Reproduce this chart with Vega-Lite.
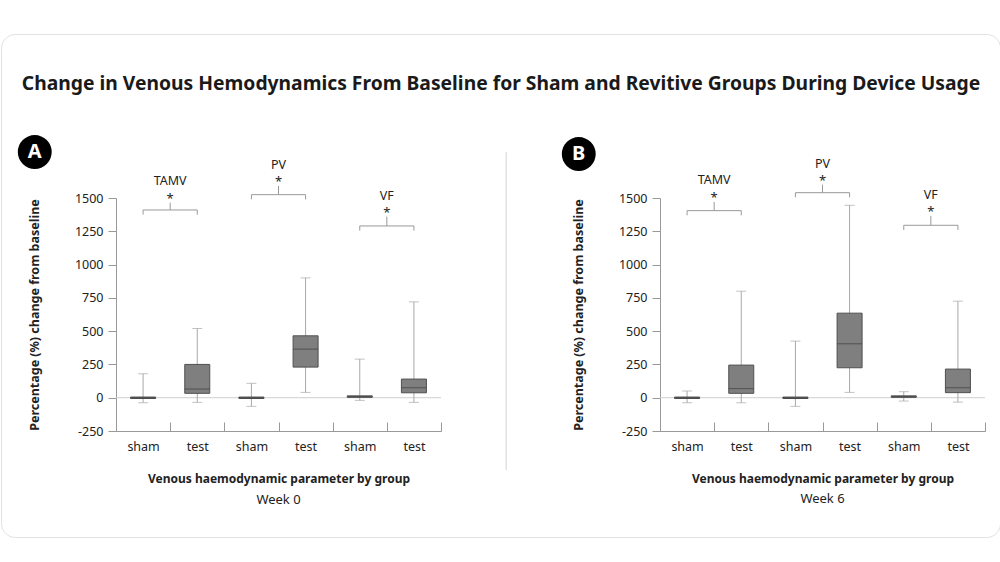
{
  "$schema": "https://vega.github.io/schema/vega-lite/v6.json",
  "background": "white",
  "padding": {"left": 0, "top": 34, "right": 0, "bottom": 5},
  "bounds": "flush",
  "spacing": 219,
  "title": {
    "text": "Change in Venous Hemodynamics From Baseline for Sham and Revitive Groups During Device Usage",
    "fontSize": 19.3, "fontWeight": "bold", "font": "Noto Sans", "color": "#1a1a1a",
    "anchor": "middle", "offset": -60
  },
  "datasets": {
    "boxA": [
      {"cat": "TAMV sham", "lo": -37, "q1": -6, "med": 0, "q3": 5, "hi": 180},
      {"cat": "TAMV test", "lo": -35, "q1": 33, "med": 65, "q3": 250, "hi": 520},
      {"cat": "PV sham", "lo": -65, "q1": -6, "med": 0, "q3": 5, "hi": 108},
      {"cat": "PV test", "lo": 40, "q1": 230, "med": 365, "q3": 465, "hi": 900},
      {"cat": "VF sham", "lo": -20, "q1": 3, "med": 8, "q3": 14, "hi": 290},
      {"cat": "VF test", "lo": -35, "q1": 37, "med": 75, "q3": 140, "hi": 720}
    ],
    "boxB": [
      {"cat": "TAMV sham", "lo": -38, "q1": -6, "med": 0, "q3": 5, "hi": 50},
      {"cat": "TAMV test", "lo": -38, "q1": 33, "med": 68, "q3": 245, "hi": 800},
      {"cat": "PV sham", "lo": -65, "q1": -6, "med": 0, "q3": 5, "hi": 425},
      {"cat": "PV test", "lo": 40, "q1": 225, "med": 405, "q3": 635, "hi": 1445},
      {"cat": "VF sham", "lo": -25, "q1": 3, "med": 8, "q3": 14, "hi": 45},
      {"cat": "VF test", "lo": -33, "q1": 38, "med": 75, "q3": 215, "hi": 725}
    ],
    "brA": [
      {"param": "TAMV", "sham": "TAMV sham", "test": "TAMV test", "yb": 1410, "ye": 1375, "ys": 1465, "yl": 1630},
      {"param": "PV", "sham": "PV sham", "test": "PV test", "yb": 1525, "ye": 1490, "ys": 1590, "yl": 1750},
      {"param": "VF", "sham": "VF sham", "test": "VF test", "yb": 1290, "ye": 1255, "ys": 1360, "yl": 1515}
    ],
    "brB": [
      {"param": "TAMV", "sham": "TAMV sham", "test": "TAMV test", "yb": 1405, "ye": 1370, "ys": 1470, "yl": 1638},
      {"param": "PV", "sham": "PV sham", "test": "PV test", "yb": 1540, "ye": 1505, "ys": 1600, "yl": 1755},
      {"param": "VF", "sham": "VF sham", "test": "VF test", "yb": 1295, "ye": 1260, "ys": 1365, "yl": 1525}
    ]
  },
  "hconcat": [
    {
      "width": 325, "height": 233,
      "title": {"text": "Week 0", "orient": "bottom", "fontSize": 13, "fontWeight": "normal", "offset": -44, "anchor": "middle", "frame": "group", "color": "#222"},
      "layer": [
        {"data": {"values": [{"frame": "card"}]}, "mark": {"type": "rect", "filled": false, "color": "#e2e2e2", "strokeWidth": 1, "cornerRadius": 14},
         "encoding": {
           "x": {"datum": "TAMV sham", "type": "nominal", "bandPosition": -2.114, "scale": {"domain": ["TAMV sham", "TAMV test", "PV sham", "PV test", "VF sham", "VF test"], "paddingInner": 0, "paddingOuter": 0}},
           "x2": {"datum": "TAMV sham", "bandPosition": 16.33},
           "y": {"datum": 2728, "type": "quantitative", "scale": {"domain": [-250, 1500], "nice": false, "zero": false}},
           "y2": {"datum": -1050}}},
        {"data": {"values": [{"line": "zero"}]}, "mark": {"type": "rule", "color": "#cfcfcf", "strokeWidth": 1},
         "encoding": {"y": {"datum": 0, "type": "quantitative", "scale": {"domain": [-250, 1500], "nice": false, "zero": false}}}},
        {"data": {"name": "boxA"}, "mark": {"type": "rule", "color": "#a8a8a8"},
         "encoding": {
           "x": {"field": "cat", "type": "nominal", "sort": null, "scale": {"domain": ["TAMV sham", "TAMV test", "PV sham", "PV test", "VF sham", "VF test"], "paddingInner": 0, "paddingOuter": 0}},
           "y": {"field": "lo", "type": "quantitative", "scale": {"domain": [-250, 1500], "nice": false, "zero": false}},
           "y2": {"field": "hi"}}},
        {"data": {"name": "boxA"}, "mark": {"type": "tick", "color": "#a8a8a8", "size": 10, "thickness": 1},
         "encoding": {
           "x": {"field": "cat", "type": "nominal", "sort": null, "scale": {"domain": ["TAMV sham", "TAMV test", "PV sham", "PV test", "VF sham", "VF test"], "paddingInner": 0, "paddingOuter": 0}},
           "y": {"field": "lo", "type": "quantitative", "scale": {"domain": [-250, 1500], "nice": false, "zero": false}}}},
        {"data": {"name": "boxA"}, "mark": {"type": "tick", "color": "#a8a8a8", "size": 10, "thickness": 1},
         "encoding": {
           "x": {"field": "cat", "type": "nominal", "sort": null, "scale": {"domain": ["TAMV sham", "TAMV test", "PV sham", "PV test", "VF sham", "VF test"], "paddingInner": 0, "paddingOuter": 0}},
           "y": {"field": "hi", "type": "quantitative", "scale": {"domain": [-250, 1500], "nice": false, "zero": false}}}},
        {"data": {"name": "boxA"}, "mark": {"type": "bar", "size": 25, "color": "#7f7f7f", "stroke": "#505050", "strokeWidth": 1},
         "encoding": {
           "x": {"field": "cat", "type": "nominal", "sort": null, "scale": {"domain": ["TAMV sham", "TAMV test", "PV sham", "PV test", "VF sham", "VF test"], "paddingInner": 0, "paddingOuter": 0},
             "axis": {"title": "Venous haemodynamic parameter by group", "labelExpr": "split(datum.label, ' ')[1]", "labelAngle": 0, "labelAlign": "center", "tickBand": "extent", "tickSize": -9, "labelPadding": 24, "titlePadding": 21, "titleFontWeight": "bold", "titleFontSize": 12, "labelFontSize": 12.5, "domainColor": "#999999", "tickColor": "#999999", "labelColor": "#222222", "titleColor": "#222222"}},
           "y": {"field": "q1", "type": "quantitative", "scale": {"domain": [-250, 1500], "nice": false, "zero": false},
             "axis": {"title": "Percentage (%) change from baseline", "values": [-250, 0, 250, 500, 750, 1000, 1250, 1500], "tickCount": 10, "labelExpr": "'' + datum.value", "labelOverlap": false, "grid": false, "tickSize": 8, "labelPadding": 5, "titlePadding": 33, "titleFontWeight": "bold", "titleFontSize": 12.5, "labelFontSize": 12.5, "domainColor": "#999999", "tickColor": "#999999", "labelColor": "#222222", "titleColor": "#222222"}},
           "y2": {"field": "q3"}}},
        {"data": {"name": "boxA"}, "mark": {"type": "tick", "color": "#3d3d3d", "size": 25, "thickness": 1},
         "encoding": {
           "x": {"field": "cat", "type": "nominal", "sort": null, "scale": {"domain": ["TAMV sham", "TAMV test", "PV sham", "PV test", "VF sham", "VF test"], "paddingInner": 0, "paddingOuter": 0}},
           "y": {"field": "med", "type": "quantitative", "scale": {"domain": [-250, 1500], "nice": false, "zero": false}}}},
        {"data": {"name": "brA"}, "mark": {"type": "rule", "color": "#999999"},
         "encoding": {
           "x": {"field": "sham", "type": "nominal", "scale": {"domain": ["TAMV sham", "TAMV test", "PV sham", "PV test", "VF sham", "VF test"], "paddingInner": 0, "paddingOuter": 0}},
           "x2": {"field": "test"},
           "y": {"field": "yb", "type": "quantitative", "scale": {"domain": [-250, 1500], "nice": false, "zero": false}}}},
        {"data": {"name": "brA"}, "mark": {"type": "rule", "color": "#999999"},
         "encoding": {
           "x": {"field": "sham", "type": "nominal", "scale": {"domain": ["TAMV sham", "TAMV test", "PV sham", "PV test", "VF sham", "VF test"], "paddingInner": 0, "paddingOuter": 0}},
           "y": {"field": "yb", "type": "quantitative", "scale": {"domain": [-250, 1500], "nice": false, "zero": false}},
           "y2": {"field": "ye"}}},
        {"data": {"name": "brA"}, "mark": {"type": "rule", "color": "#999999"},
         "encoding": {
           "x": {"field": "test", "type": "nominal", "scale": {"domain": ["TAMV sham", "TAMV test", "PV sham", "PV test", "VF sham", "VF test"], "paddingInner": 0, "paddingOuter": 0}},
           "y": {"field": "yb", "type": "quantitative", "scale": {"domain": [-250, 1500], "nice": false, "zero": false}},
           "y2": {"field": "ye"}}},
        {"data": {"name": "brA"}, "mark": {"type": "rule", "color": "#999999"},
         "encoding": {
           "x": {"field": "test", "type": "nominal", "bandPosition": 0, "scale": {"domain": ["TAMV sham", "TAMV test", "PV sham", "PV test", "VF sham", "VF test"], "paddingInner": 0, "paddingOuter": 0}},
           "y": {"field": "yb", "type": "quantitative", "scale": {"domain": [-250, 1500], "nice": false, "zero": false}},
           "y2": {"field": "ys"}}},
        {"data": {"name": "brA"}, "mark": {"type": "text", "text": "*", "fontSize": 13, "baseline": "alphabetic", "color": "#222222"},
         "encoding": {
           "x": {"field": "test", "type": "nominal", "bandPosition": 0, "scale": {"domain": ["TAMV sham", "TAMV test", "PV sham", "PV test", "VF sham", "VF test"], "paddingInner": 0, "paddingOuter": 0}},
           "y": {"field": "ys", "type": "quantitative", "scale": {"domain": [-250, 1500], "nice": false, "zero": false}}}},
        {"data": {"name": "brA"}, "mark": {"type": "text", "fontSize": 12.5, "baseline": "middle", "color": "#222222"},
         "encoding": {
           "x": {"field": "test", "type": "nominal", "bandPosition": 0, "scale": {"domain": ["TAMV sham", "TAMV test", "PV sham", "PV test", "VF sham", "VF test"], "paddingInner": 0, "paddingOuter": 0}},
           "y": {"field": "yl", "type": "quantitative", "scale": {"domain": [-250, 1500], "nice": false, "zero": false}},
           "text": {"field": "param"}}},
        {"data": {"values": [{"badge": "A"}]}, "mark": {"type": "point", "shape": "circle", "filled": true, "size": 1150, "color": "#000000", "opacity": 1},
         "encoding": {
           "x": {"datum": "TAMV sham", "type": "nominal", "bandPosition": -1.5, "scale": {"domain": ["TAMV sham", "TAMV test", "PV sham", "PV test", "VF sham", "VF test"], "paddingInner": 0, "paddingOuter": 0}},
           "y": {"datum": 1845, "type": "quantitative", "scale": {"domain": [-250, 1500], "nice": false, "zero": false}}}},
        {"data": {"values": [{"badge": "A"}]}, "mark": {"type": "text", "fontSize": 20, "fontWeight": "bold", "color": "#ffffff", "baseline": "middle", "align": "center"},
         "encoding": {
           "x": {"datum": "TAMV sham", "type": "nominal", "bandPosition": -1.5, "scale": {"domain": ["TAMV sham", "TAMV test", "PV sham", "PV test", "VF sham", "VF test"], "paddingInner": 0, "paddingOuter": 0}},
           "y": {"datum": 1845, "type": "quantitative", "scale": {"domain": [-250, 1500], "nice": false, "zero": false}},
           "text": {"field": "badge"}}}
      ]
    },
    {
      "width": 325, "height": 233,
      "title": {"text": "Week 6", "orient": "bottom", "fontSize": 13, "fontWeight": "normal", "offset": 8, "anchor": "middle", "frame": "group", "color": "#222"},
      "layer": [
        {"data": {"values": [{"line": "divider"}]}, "mark": {"type": "rule", "color": "#d4d4d4", "strokeWidth": 1},
         "encoding": {
           "x": {"datum": "TAMV sham", "type": "nominal", "bandPosition": -2.84, "scale": {"domain": ["TAMV sham", "TAMV test", "PV sham", "PV test", "VF sham", "VF test"], "paddingInner": 0, "paddingOuter": 0}},
           "y": {"datum": 1845, "type": "quantitative", "scale": {"domain": [-250, 1500], "nice": false, "zero": false}},
           "y2": {"datum": -543}}},
        {"data": {"values": [{"line": "zero"}]}, "mark": {"type": "rule", "color": "#cfcfcf", "strokeWidth": 1},
         "encoding": {"y": {"datum": 0, "type": "quantitative", "scale": {"domain": [-250, 1500], "nice": false, "zero": false}}}},
        {"data": {"name": "boxB"}, "mark": {"type": "rule", "color": "#a8a8a8"},
         "encoding": {
           "x": {"field": "cat", "type": "nominal", "sort": null, "scale": {"domain": ["TAMV sham", "TAMV test", "PV sham", "PV test", "VF sham", "VF test"], "paddingInner": 0, "paddingOuter": 0}},
           "y": {"field": "lo", "type": "quantitative", "scale": {"domain": [-250, 1500], "nice": false, "zero": false}},
           "y2": {"field": "hi"}}},
        {"data": {"name": "boxB"}, "mark": {"type": "tick", "color": "#a8a8a8", "size": 10, "thickness": 1},
         "encoding": {
           "x": {"field": "cat", "type": "nominal", "sort": null, "scale": {"domain": ["TAMV sham", "TAMV test", "PV sham", "PV test", "VF sham", "VF test"], "paddingInner": 0, "paddingOuter": 0}},
           "y": {"field": "lo", "type": "quantitative", "scale": {"domain": [-250, 1500], "nice": false, "zero": false}}}},
        {"data": {"name": "boxB"}, "mark": {"type": "tick", "color": "#a8a8a8", "size": 10, "thickness": 1},
         "encoding": {
           "x": {"field": "cat", "type": "nominal", "sort": null, "scale": {"domain": ["TAMV sham", "TAMV test", "PV sham", "PV test", "VF sham", "VF test"], "paddingInner": 0, "paddingOuter": 0}},
           "y": {"field": "hi", "type": "quantitative", "scale": {"domain": [-250, 1500], "nice": false, "zero": false}}}},
        {"data": {"name": "boxB"}, "mark": {"type": "bar", "size": 25, "color": "#7f7f7f", "stroke": "#505050", "strokeWidth": 1},
         "encoding": {
           "x": {"field": "cat", "type": "nominal", "sort": null, "scale": {"domain": ["TAMV sham", "TAMV test", "PV sham", "PV test", "VF sham", "VF test"], "paddingInner": 0, "paddingOuter": 0},
             "axis": {"title": "Venous haemodynamic parameter by group", "labelExpr": "split(datum.label, ' ')[1]", "labelAngle": 0, "labelAlign": "center", "tickBand": "extent", "tickSize": -9, "labelPadding": 24, "titlePadding": 21, "titleFontWeight": "bold", "titleFontSize": 12, "labelFontSize": 12.5, "domainColor": "#999999", "tickColor": "#999999", "labelColor": "#222222", "titleColor": "#222222"}},
           "y": {"field": "q1", "type": "quantitative", "scale": {"domain": [-250, 1500], "nice": false, "zero": false},
             "axis": {"title": "Percentage (%) change from baseline", "values": [-250, 0, 250, 500, 750, 1000, 1250, 1500], "tickCount": 10, "labelExpr": "'' + datum.value", "labelOverlap": false, "grid": false, "tickSize": 8, "labelPadding": 5, "titlePadding": 33, "titleFontWeight": "bold", "titleFontSize": 12.5, "labelFontSize": 12.5, "domainColor": "#999999", "tickColor": "#999999", "labelColor": "#222222", "titleColor": "#222222"}},
           "y2": {"field": "q3"}}},
        {"data": {"name": "boxB"}, "mark": {"type": "tick", "color": "#3d3d3d", "size": 25, "thickness": 1},
         "encoding": {
           "x": {"field": "cat", "type": "nominal", "sort": null, "scale": {"domain": ["TAMV sham", "TAMV test", "PV sham", "PV test", "VF sham", "VF test"], "paddingInner": 0, "paddingOuter": 0}},
           "y": {"field": "med", "type": "quantitative", "scale": {"domain": [-250, 1500], "nice": false, "zero": false}}}},
        {"data": {"name": "brB"}, "mark": {"type": "rule", "color": "#999999"},
         "encoding": {
           "x": {"field": "sham", "type": "nominal", "scale": {"domain": ["TAMV sham", "TAMV test", "PV sham", "PV test", "VF sham", "VF test"], "paddingInner": 0, "paddingOuter": 0}},
           "x2": {"field": "test"},
           "y": {"field": "yb", "type": "quantitative", "scale": {"domain": [-250, 1500], "nice": false, "zero": false}}}},
        {"data": {"name": "brB"}, "mark": {"type": "rule", "color": "#999999"},
         "encoding": {
           "x": {"field": "sham", "type": "nominal", "scale": {"domain": ["TAMV sham", "TAMV test", "PV sham", "PV test", "VF sham", "VF test"], "paddingInner": 0, "paddingOuter": 0}},
           "y": {"field": "yb", "type": "quantitative", "scale": {"domain": [-250, 1500], "nice": false, "zero": false}},
           "y2": {"field": "ye"}}},
        {"data": {"name": "brB"}, "mark": {"type": "rule", "color": "#999999"},
         "encoding": {
           "x": {"field": "test", "type": "nominal", "scale": {"domain": ["TAMV sham", "TAMV test", "PV sham", "PV test", "VF sham", "VF test"], "paddingInner": 0, "paddingOuter": 0}},
           "y": {"field": "yb", "type": "quantitative", "scale": {"domain": [-250, 1500], "nice": false, "zero": false}},
           "y2": {"field": "ye"}}},
        {"data": {"name": "brB"}, "mark": {"type": "rule", "color": "#999999"},
         "encoding": {
           "x": {"field": "test", "type": "nominal", "bandPosition": 0, "scale": {"domain": ["TAMV sham", "TAMV test", "PV sham", "PV test", "VF sham", "VF test"], "paddingInner": 0, "paddingOuter": 0}},
           "y": {"field": "yb", "type": "quantitative", "scale": {"domain": [-250, 1500], "nice": false, "zero": false}},
           "y2": {"field": "ys"}}},
        {"data": {"name": "brB"}, "mark": {"type": "text", "text": "*", "fontSize": 13, "baseline": "alphabetic", "color": "#222222"},
         "encoding": {
           "x": {"field": "test", "type": "nominal", "bandPosition": 0, "scale": {"domain": ["TAMV sham", "TAMV test", "PV sham", "PV test", "VF sham", "VF test"], "paddingInner": 0, "paddingOuter": 0}},
           "y": {"field": "ys", "type": "quantitative", "scale": {"domain": [-250, 1500], "nice": false, "zero": false}}}},
        {"data": {"name": "brB"}, "mark": {"type": "text", "fontSize": 12.5, "baseline": "middle", "color": "#222222"},
         "encoding": {
           "x": {"field": "test", "type": "nominal", "bandPosition": 0, "scale": {"domain": ["TAMV sham", "TAMV test", "PV sham", "PV test", "VF sham", "VF test"], "paddingInner": 0, "paddingOuter": 0}},
           "y": {"field": "yl", "type": "quantitative", "scale": {"domain": [-250, 1500], "nice": false, "zero": false}},
           "text": {"field": "param"}}},
        {"data": {"values": [{"badge": "B"}]}, "mark": {"type": "point", "shape": "circle", "filled": true, "size": 1150, "color": "#000000", "opacity": 1},
         "encoding": {
           "x": {"datum": "TAMV sham", "type": "nominal", "bandPosition": -1.5, "scale": {"domain": ["TAMV sham", "TAMV test", "PV sham", "PV test", "VF sham", "VF test"], "paddingInner": 0, "paddingOuter": 0}},
           "y": {"datum": 1830, "type": "quantitative", "scale": {"domain": [-250, 1500], "nice": false, "zero": false}}}},
        {"data": {"values": [{"badge": "B"}]}, "mark": {"type": "text", "fontSize": 20, "fontWeight": "bold", "color": "#ffffff", "baseline": "middle", "align": "center"},
         "encoding": {
           "x": {"datum": "TAMV sham", "type": "nominal", "bandPosition": -1.5, "scale": {"domain": ["TAMV sham", "TAMV test", "PV sham", "PV test", "VF sham", "VF test"], "paddingInner": 0, "paddingOuter": 0}},
           "y": {"datum": 1830, "type": "quantitative", "scale": {"domain": [-250, 1500], "nice": false, "zero": false}},
           "text": {"field": "badge"}}}
      ]
    }
  ],
  "config": {
    "font": "Noto Sans",
    "view": {"stroke": null},
    "text": {"font": "Noto Sans"},
    "axis": {"labelFont": "Noto Sans", "titleFont": "Noto Sans"}
  }
}
